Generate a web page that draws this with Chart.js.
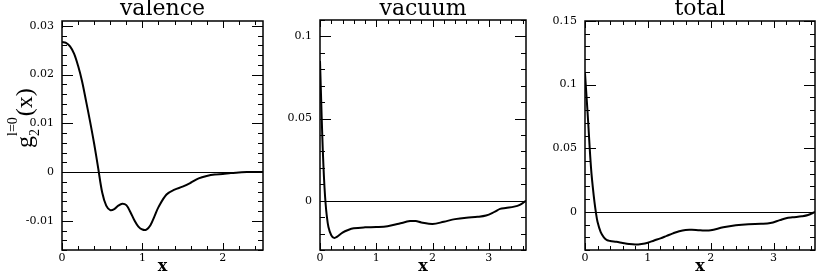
<!DOCTYPE html>
<html><head><meta charset="utf-8">
<script src="https://cdn.jsdelivr.net/npm/chart.js@4.4.1/dist/chart.umd.min.js"></script>
<style>
html,body{margin:0;padding:0;background:#fff;width:817px;height:273px;overflow:hidden;}
.p{position:absolute;top:0;height:273px;}
canvas{display:block;}
</style></head><body>
<div class="p" style="left:0;width:272px"><canvas id="c1" width="272" height="273"></canvas></div>
<div class="p" style="left:272px;width:262px"><canvas id="c2" width="262" height="273"></canvas></div>
<div class="p" style="left:534px;width:283px"><canvas id="c3" width="283" height="273"></canvas></div>
<script>
// ---- data ----
const titles = ['valence', 'vacuum', 'total'];
const xAxisTitle = 'x';

const valenceX = [0, 0.05, 0.1, 0.15, 0.2, 0.25, 0.3, 0.35, 0.4, 0.45, 0.5, 0.55, 0.6, 0.65, 0.7, 0.75, 0.8, 0.85, 0.9, 0.95, 1.0, 1.05, 1.1, 1.15, 1.2, 1.3, 1.4, 1.5, 1.6, 1.7, 1.8, 1.9, 2.0, 2.1, 2.2, 2.3, 2.4, 2.5];
const valenceY = [0.0267, 0.0265, 0.0258, 0.0243, 0.0218, 0.0186, 0.0145, 0.0103, 0.0058, 0.0008, -0.0042, -0.0069, -0.0078, -0.0076, -0.0069, -0.0065, -0.0068, -0.0082, -0.0099, -0.0112, -0.0118, -0.0118, -0.0109, -0.0091, -0.0072, -0.0046, -0.0036, -0.0030, -0.0022, -0.0013, -0.0008, -0.0005, -0.0004, -0.0002, -0.0001, 0, 0, 0];

const vacuumX = [0, 0.02, 0.04, 0.06, 0.08, 0.1, 0.12, 0.15, 0.2, 0.25, 0.3, 0.4, 0.5, 0.6, 0.8, 1.0, 1.2, 1.4, 1.6, 1.7, 1.8, 2.0, 2.2, 2.4, 2.6, 2.8, 2.95, 3.1, 3.2, 3.3, 3.45, 3.55, 3.66];
const vacuumY = [0.085, 0.062, 0.040, 0.022, 0.008, -0.002, -0.009, -0.016, -0.021, -0.0226, -0.0220, -0.0194, -0.0178, -0.0168, -0.0162, -0.0160, -0.0155, -0.0140, -0.0124, -0.0124, -0.0132, -0.0142, -0.0128, -0.0112, -0.0103, -0.0098, -0.0090, -0.0068, -0.0050, -0.0044, -0.0036, -0.0025, 0];

const totalX = [0, 0.025, 0.05, 0.075, 0.1, 0.125, 0.15, 0.175, 0.2, 0.25, 0.3, 0.35, 0.4, 0.5, 0.6, 0.7, 0.8, 0.9, 1.0, 1.1, 1.2, 1.3, 1.4, 1.5, 1.6, 1.7, 1.8, 1.9, 2.0, 2.2, 2.4, 2.6, 2.8, 2.95, 3.1, 3.2, 3.3, 3.45, 3.55, 3.66];
const totalY = [0.109, 0.090, 0.071, 0.050, 0.032, 0.019, 0.008, -0.001, -0.008, -0.016, -0.020, -0.0222, -0.0229, -0.0236, -0.0245, -0.0253, -0.0257, -0.0253, -0.0243, -0.0225, -0.0209, -0.0189, -0.0169, -0.0152, -0.0142, -0.0141, -0.0144, -0.0147, -0.0145, -0.0122, -0.0106, -0.0097, -0.0094, -0.0088, -0.0065, -0.0050, -0.0043, -0.0035, -0.0025, 0];

const valenceYTicks = [-0.01, 0, 0.01, 0.02, 0.03];
const valenceYLabels = ['-0.01', '0', '0.01', '0.02', '0.03'];
const vacuumYTicks = [0, 0.05, 0.1];
const vacuumYLabels = ['0', '0.05', '0.1'];
const totalYTicks = [0, 0.05, 0.1, 0.15];
const totalYLabels = ['0', '0.05', '0.1', '0.15'];
const valenceXTicks = [0, 1, 2];
const longXTicks = [0, 1, 2, 3];

// ---- plugins ----
const frameTicks = {
  id: 'frameTicks',
  beforeDatasetsDraw(chart) {
    const {ctx, chartArea: a, scales: {y}} = chart;
    const y0 = Math.round(y.getPixelForValue(0)) + 0.5;
    ctx.save();
    ctx.strokeStyle = '#000'; ctx.lineWidth = 1;
    ctx.beginPath(); ctx.moveTo(a.left, y0); ctx.lineTo(a.right, y0); ctx.stroke();
    ctx.restore();
  },
  afterDraw(chart, args, o) {
    const {ctx, chartArea: a, scales: {x, y}} = chart;
    ctx.save();
    ctx.strokeStyle = '#000'; ctx.lineWidth = 1;
    const isMajor = (v, m) => Math.abs(v / m - Math.round(v / m)) < 1e-6;
    ctx.beginPath();
    for (let k = Math.ceil(x.min / o.xMinor - 1e-6); k * o.xMinor <= x.max + 1e-9; k++) {
      const v = k * o.xMinor;
      const px = Math.round(x.getPixelForValue(v)) + 0.5;
      const len = isMajor(v, o.xMajor) ? 7 : 4;
      ctx.moveTo(px, a.bottom); ctx.lineTo(px, a.bottom - len);
      ctx.moveTo(px, a.top); ctx.lineTo(px, a.top + len);
    }
    for (let k = Math.ceil(y.min / o.yMinor - 1e-6); k * o.yMinor <= y.max + 1e-9; k++) {
      const v = k * o.yMinor;
      const py = Math.round(y.getPixelForValue(v)) + 0.5;
      const len = isMajor(v, o.yMajor) ? 11 : 5;
      ctx.moveTo(a.left, py); ctx.lineTo(a.left + len, py);
      ctx.moveTo(a.right, py); ctx.lineTo(a.right - len, py);
    }
    ctx.stroke();
    ctx.lineWidth = 1.5;
    ctx.strokeRect(a.left, a.top, a.right - a.left, a.bottom - a.top);
    ctx.restore();
  }
};

const yLabelPlugin = {
  id: 'yLabel',
  afterDraw(chart) {
    const ctx = chart.ctx;
    ctx.save();
    ctx.translate(32, 148);
    ctx.rotate(-Math.PI / 2);
    ctx.fillStyle = '#000';
    ctx.textBaseline = 'alphabetic';
    ctx.textAlign = 'left';
    ctx.font = '24px "Liberation Serif", serif';
    ctx.fillText('g', 0, 0);
    const gw = ctx.measureText('g').width;
    ctx.font = '14px "Liberation Serif", serif';
    ctx.fillText('2', gw, 7);
    ctx.fillText('l=0', gw, -15);
    const sw = ctx.measureText('l=0').width;
    ctx.font = '24px "Liberation Serif", serif';
    ctx.fillText('(x)', gw + sw + 1, 0);
    ctx.restore();
  }
};

function makeChart(id, xs, ys, cfg) {
  const pts = xs.map((x, i) => ({x: x, y: ys[i]}));
  return new Chart(document.getElementById(id), {
    type: 'line',
    data: {datasets: [{data: pts, borderColor: '#000', borderWidth: 2, pointRadius: 0, fill: false, tension: 0.35}]},
    plugins: cfg.plugins,
    options: {
      responsive: false, animation: false, devicePixelRatio: 1,
      layout: {padding: {left: 0, right: cfg.padRight, top: 0, bottom: 0}},
      plugins: {
        legend: {display: false}, tooltip: {enabled: false},
        title: {display: true, text: cfg.title, fullSize: false, color: '#000',
          font: {family: 'DejaVu Serif', size: 22, weight: 'normal', lineHeight: 0.8},
          padding: {top: 0, bottom: cfg.titlePadB}},
        frameTicks: cfg.ticks
      },
      scales: {
        x: {type: 'linear', min: 0, max: cfg.xMax,
          grid: {display: false, drawTicks: false}, border: {display: false},
          afterBuildTicks: s => { s.ticks = cfg.xTicks.map(v => ({value: v})); },
          ticks: {padding: 2, color: '#000', font: {family: 'DejaVu Serif', size: 11}, maxRotation: 0,
            callback: (v) => String(v)},
          title: {display: true, text: xAxisTitle, color: '#000', padding: 0,
            font: {family: 'DejaVu Serif', size: 16, weight: 'bold', lineHeight: 0.8}},
          afterFit: s => { s.height = 23; }
        },
        y: {type: 'linear', min: cfg.yMin, max: cfg.yMax,
          grid: {display: false, drawTicks: false}, border: {display: false},
          afterBuildTicks: s => { s.ticks = cfg.yTicks.map(v => ({value: v})); },
          ticks: {padding: 8, color: '#000', font: {family: 'DejaVu Serif', size: 11},
            callback: (v, i) => cfg.yLabels[i]},
          afterFit: s => { s.width = cfg.yWidth; }
        }
      }
    }
  });
}

makeChart('c1', valenceX, valenceY, {title: titles[0], xMax: 2.5, yMin: -0.016, yMax: 0.031,
  xTicks: valenceXTicks, yTicks: valenceYTicks, yLabels: valenceYLabels, yWidth: 62, padRight: 9, titlePadB: 3.4,
  ticks: {xMinor: 0.2, xMajor: 1, yMinor: 0.002, yMajor: 0.01}, plugins: [frameTicks, yLabelPlugin]});
makeChart('c2', vacuumX, vacuumY, {title: titles[1], xMax: 3.66, yMin: -0.03, yMax: 0.11,
  xTicks: longXTicks, yTicks: vacuumYTicks, yLabels: vacuumYLabels, yWidth: 48, padRight: 8, titlePadB: 2.4,
  ticks: {xMinor: 0.2, xMajor: 1, yMinor: 0.01, yMajor: 0.05}, plugins: [frameTicks]});
makeChart('c3', totalX, totalY, {title: titles[2], xMax: 3.66, yMin: -0.03, yMax: 0.15,
  xTicks: longXTicks, yTicks: totalYTicks, yLabels: totalYLabels, yWidth: 51, padRight: 2, titlePadB: 3.4,
  ticks: {xMinor: 0.2, xMajor: 1, yMinor: 0.01, yMajor: 0.05}, plugins: [frameTicks]});
</script>
</body></html>
